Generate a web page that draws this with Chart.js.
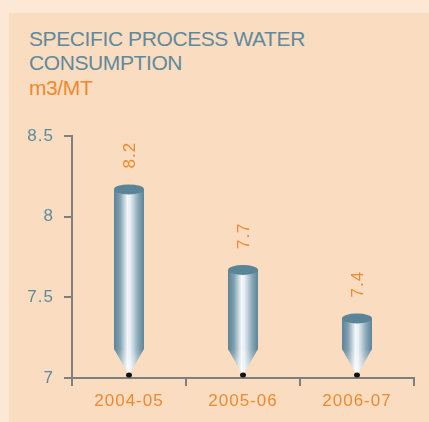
<!DOCTYPE html>
<html><head><meta charset="utf-8">
<script src="https://cdn.jsdelivr.net/npm/chart.js@4"></script>
<style>
html,body{margin:0;padding:0;background:#fde8d6;width:429px;height:422px;overflow:hidden}
#panel{position:absolute;left:9px;top:13px;width:420px;height:409px;background:#fadcc0}
#title{position:absolute;left:29px;top:27px;font-family:"Liberation Sans",Arial,sans-serif;font-size:21px;line-height:24px;color:#5f8a9c;letter-spacing:-0.4px}
#unit{color:#f0892f;line-height:26px}
#wrap{position:absolute;left:0;top:0;width:429px;height:422px}
</style></head>
<body>
<div id="panel"></div>
<div id="title">SPECIFIC PROCESS WATER<br>CONSUMPTION<br><span id="unit">m3/MT</span></div>
<div id="wrap"><canvas id="c" width="429" height="422"></canvas></div>
<script>
const categories = ["2004-05", "2005-06", "2006-07"];
const values = [8.2, 7.7, 7.4];
const yTicks = [7, 7.5, 8, 8.5];

const blue = '#5f8a9c';
const orange = '#f0892f';

const pencilPlugin = {
  id: 'pencil',
  beforeDraw(chart) { chart.ctx.letterSpacing = '1px'; },
  afterDatasetsDraw(chart) {
    const ctx = chart.ctx;
    const meta = chart.getDatasetMeta(0);
    meta.data.forEach((bar, i) => {
      const x = bar.x, top = bar.y, base = bar.base, w = bar.width;
      const l = x - w / 2, r = x + w / 2;
      const ry = 5;
      const coneH = 28;
      const coneTop = base - coneH;
      const tipY = base - 2;
      ctx.save();
      ctx.letterSpacing = '0px';
      const g = ctx.createLinearGradient(l, 0, r, 0);
      g.addColorStop(0, '#5b8397');
      g.addColorStop(0.2, '#7fa0b0');
      g.addColorStop(0.45, '#f4f8fa');
      g.addColorStop(0.55, '#e6eef2');
      g.addColorStop(0.8, '#8aa9b8');
      g.addColorStop(1, '#5b8397');
      ctx.fillStyle = g;
      ctx.beginPath();
      ctx.moveTo(l, top + ry);
      ctx.lineTo(l, coneTop);
      ctx.lineTo(x, tipY);
      ctx.lineTo(r, coneTop);
      ctx.lineTo(r, top + ry);
      ctx.closePath();
      ctx.fill();
      const g2 = ctx.createLinearGradient(0, coneTop, 0, base);
      g2.addColorStop(0, 'rgba(255,255,255,0)');
      g2.addColorStop(1, 'rgba(255,255,255,0.6)');
      ctx.fillStyle = g2;
      ctx.beginPath();
      ctx.moveTo(l, coneTop);
      ctx.lineTo(x, tipY);
      ctx.lineTo(r, coneTop);
      ctx.closePath();
      ctx.fill();
      ctx.fillStyle = '#5a8498';
      ctx.beginPath();
      ctx.ellipse(x, top + ry, w / 2, ry, 0, 0, Math.PI * 2);
      ctx.fill();
      ctx.fillStyle = '#111';
      ctx.beginPath();
      ctx.ellipse(x, tipY, 3, 2.5, 0, 0, Math.PI * 2);
      ctx.fill();
      ctx.translate(x, top - 16);
      ctx.rotate(-Math.PI / 2);
      ctx.letterSpacing = '1px';
      ctx.font = '17px "Liberation Sans", Arial, sans-serif';
      ctx.fillStyle = orange;
      ctx.textAlign = 'left';
      ctx.textBaseline = 'middle';
      ctx.fillText(String(values[i]), 0, 1);
      ctx.restore();
    });
  }
};

new Chart(document.getElementById('c'), {
  type: 'bar',
  data: {
    labels: categories,
    datasets: [{
      data: values,
      base: 7,
      backgroundColor: 'rgba(0,0,0,0)',
      borderWidth: 0,
      categoryPercentage: 1,
      barPercentage: 0.263
    }]
  },
  options: {
    responsive: false,
    animation: false,
    events: [],
    layout: { padding: { top: 136, right: 15, left: 0, bottom: 0 } },
    plugins: { legend: { display: false }, tooltip: { enabled: false } },
    scales: {
      x: {
        grid: { display: true, drawOnChartArea: false, drawTicks: true, tickLength: 8, color: '#7f7f7f', lineWidth: 2, offset: true },
        border: { display: true, color: '#7f7f7f', width: 2 },
        ticks: { color: orange, font: { family: '"Liberation Sans", Arial, sans-serif', size: 17 }, padding: 5, maxRotation: 0 },
        afterFit(s) { s.height = 44; }
      },
      y: {
        min: 7, max: 8.5,
        afterBuildTicks(s) { s.ticks = yTicks.map(v => ({ value: v })); },
        grid: { display: true, drawOnChartArea: false, drawTicks: true, tickLength: 8, color: '#7f7f7f', lineWidth: 2 },
        border: { display: true, color: '#7f7f7f', width: 2 },
        ticks: { color: blue, font: { family: '"Liberation Sans", Arial, sans-serif', size: 17 }, padding: 10, callback: v => String(v) },
        afterFit(s) { s.width = 72; }
      }
    }
  },
  plugins: [pencilPlugin]
});
</script>
</body></html>
